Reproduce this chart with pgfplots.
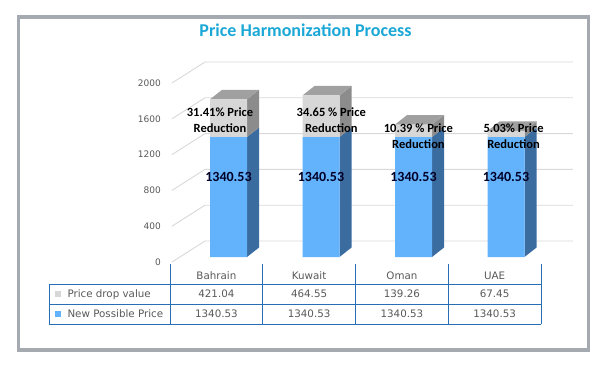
\documentclass[border=0pt]{standalone}
\usepackage{pgfplots}
\usepackage{pgfplotstable}
\pgfplotsset{compat=1.18}
\usepackage{fontspec}
\setmainfont{DejaVu Sans}
\newfontfamily\calibri{Carlito}
\definecolor{titlecol}{RGB}{27,168,214}
\definecolor{blufront}{RGB}{99,178,252}
\definecolor{bluside}{RGB}{58,108,160}
\definecolor{grayfront}{RGB}{215,215,215}
\definecolor{grayside}{RGB}{140,140,140}
\definecolor{graytop}{RGB}{160,160,160}
\definecolor{gridcol}{RGB}{217,217,217}
\definecolor{txtgray}{RGB}{89,89,89}
\definecolor{tabline}{RGB}{40,110,180}
\definecolor{framecol}{RGB}{165,170,176}

\pgfplotstableread{
idx newprice drop
0 1340.53 421.04
1 1340.53 464.55
2 1340.53 139.26
3 1340.53 67.45
}\datatable

\pgfplotsset{myaxis/.style={
  anchor=origin, at={(228.5pt,110pt)},
  x=92.5pt, y=0.0895pt,
  xmin=-0.611, xmax=3.72, ymin=0, ymax=2000,
  axis line style={draw=none},
  major tick length=0pt,
  clip=false,
}}

% 3D side and top faces of a stacked column: #1 index, #2 lower value, #3 upper value
\newcommand\barfaces[3]{%
  \pgfmathsetmacro\xa{#1+0.2}%
  \pgfmathsetmacro\xb{#1+0.33}%
  \pgfmathsetmacro\xc{#1-0.2}%
  \pgfmathsetmacro\xd{#1-0.07}%
  \pgfmathsetmacro\ya{#2}%
  \pgfmathsetmacro\yb{#2+106}%
  \pgfmathsetmacro\yt{#2+#3}%
  \pgfmathsetmacro\ytt{#2+#3+106}%
  \edef\tmp{%
    \noexpand\addplot[draw=none, fill=bluside] coordinates {(\xa,0) (\xb,106) (\xb,\yb) (\xa,\ya) (\xa,0)};
    \noexpand\addplot[draw=none, fill=grayside] coordinates {(\xa,\ya) (\xb,\yb) (\xb,\ytt) (\xa,\yt) (\xa,\ya)};
    \noexpand\addplot[draw=none, fill=graytop] coordinates {(\xc,\yt) (\xa,\yt) (\xb,\ytt) (\xd,\ytt) (\xc,\yt)};
  }\tmp
}

\begin{document}
\begin{tikzpicture}
\path[use as bounding box, fill=white] (0pt,0pt) rectangle (604pt,367pt);
\fill[white] (18.5pt,17pt) rectangle (588.5pt,350pt);
\draw[framecol, line width=3.5pt] (18.5pt,17pt) rectangle (588.5pt,350pt);

\node[anchor=base, font=\calibri\bfseries\fontsize{18}{20}\selectfont, text=titlecol] at (305.5pt,330pt) {Price Harmonization Process};

% axis with back wall, tick labels and 3D faces
\begin{axis}[myaxis, xtick=\empty, ytick={0,400,...,2000},
  yticklabel style={font=\fontsize{9}{10}\selectfont, text=txtgray, anchor=east, inner sep=0pt, xshift=-11pt, yshift=-5pt},
  /pgf/number format/assume math mode=true,
  /pgf/number format/1000 sep={},
]
\pgfplotsinvokeforeach{0,400,...,2000}{
  \draw[gridcol, line width=0.9pt] ([yshift=-5pt]axis cs:-0.611,#1) -- ([xshift=33pt,yshift=16pt]axis cs:-0.611,#1) -- ([yshift=16pt]axis cs:3.724,#1);
}
\barfaces{0}{1340.53}{421.04}
\barfaces{1}{1340.53}{464.55}
\barfaces{2}{1340.53}{139.26}
\barfaces{3}{1340.53}{67.45}
\end{axis}

% front faces of the stacked columns
\begin{axis}[myaxis, ybar stacked, bar width=37pt, xtick=\empty, ytick=\empty]
\addplot[fill=blufront, draw=none] table[x=idx, y=newprice] {\datatable};
\addplot[fill=grayfront, draw=none] table[x=idx, y=drop] {\datatable};
\end{axis}

% data labels
\begin{axis}[myaxis, xtick=\empty, ytick=\empty]
\pgfplotsinvokeforeach{0,1,2,3}{
  \node[font=\calibri\bfseries\fontsize{14}{15}\selectfont, text=black!85!blue] at (axis cs:#1,894) {1340.53};
}
\node[align=center, font=\calibri\bfseries\fontsize{12.5}{16}\selectfont] at (axis cs:-0.092,1531) {31.41\% Price\\Reduction};
\node[align=center, font=\calibri\bfseries\fontsize{12.5}{16}\selectfont] at (axis cs:1.111,1531) {34.65 \% Price\\Reduction};
\node[align=center, font=\calibri\bfseries\fontsize{12.5}{16}\selectfont] at (axis cs:2.053,1346) {10.39 \% Price\\Reduction};
\node[align=center, font=\calibri\bfseries\fontsize{12.5}{16}\selectfont] at (axis cs:3.082,1346) {5.03\% Price\\Reduction};
\end{axis}

% data table
\begin{scope}[tabline, line width=0.8pt]
  \foreach \x in {170,262.75,355.5,448.25,541}{
    \draw (\x pt,43pt) -- (\x pt,103pt);
  }
  \draw (49pt,43pt) -- (49pt,83pt);
  \foreach \y in {83,63,43}{
    \draw (49pt,\y pt) -- (541pt,\y pt);
  }
\end{scope}
\begin{scope}[every node/.style={font=\fontsize{10.3}{12}\selectfont, text=txtgray, anchor=base}]
  \node at (216.4pt,87.2pt) {Bahrain};
  \node at (309.1pt,87.2pt) {Kuwait};
  \node at (401.9pt,87.2pt) {Oman};
  \node at (494.6pt,87.2pt) {UAE};
  \node at (216.4pt,69.2pt) {421.04};
  \node at (309.1pt,69.2pt) {464.55};
  \node at (401.9pt,69.2pt) {139.26};
  \node at (494.6pt,69.2pt) {67.45};
  \node at (216.4pt,49.2pt) {1340.53};
  \node at (309.1pt,49.2pt) {1340.53};
  \node at (401.9pt,49.2pt) {1340.53};
  \node at (494.6pt,49.2pt) {1340.53};
  \node[anchor=base west] at (64pt,69.2pt) {Price drop value};
  \node[anchor=base west] at (64pt,49.2pt) {New Possible Price};
\end{scope}
\fill[grayfront] (55pt,70pt) rectangle (61pt,76pt);
\fill[blufront] (55pt,50pt) rectangle (61pt,56pt);
\end{tikzpicture}
\end{document}
